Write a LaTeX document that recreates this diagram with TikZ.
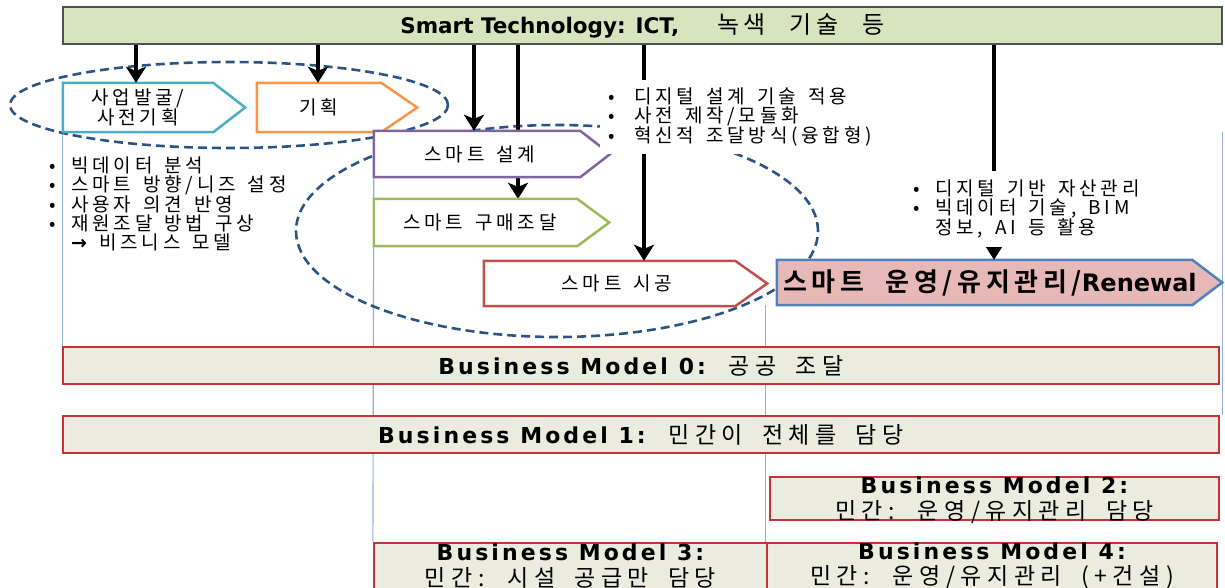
\documentclass[tikz,border=0pt]{standalone}
\usepackage{fontspec}
\setmainfont{Noto Sans CJK KR}[LetterSpace=20, WordSpace=1.5]
\newfontfamily\bigkr{Noto Sans CJK KR}[LetterSpace=18, WordSpace=2.5]
\newfontfamily\bmkr{Noto Sans CJK KR}[LetterSpace=24, WordSpace=1.8]
\newfontfamily\barlat{DejaVu Sans Bold}
\newfontfamily\bmlat{DejaVu Sans Bold}[LetterSpace=14]
\newfontfamily\krbold{Noto Sans CJK KR Bold}[LetterSpace=18, WordSpace=2]
\usetikzlibrary{arrows.meta,backgrounds}

\definecolor{barfill}{RGB}{215,228,189}
\definecolor{barline}{RGB}{80,80,80}
\definecolor{cteal}{RGB}{75,172,198}
\definecolor{corange}{RGB}{247,150,70}
\definecolor{cpurple}{RGB}{128,100,162}
\definecolor{cgreen}{RGB}{155,187,89}
\definecolor{cred}{RGB}{192,80,77}
\definecolor{cblue}{RGB}{79,129,189}
\definecolor{cpink}{RGB}{230,185,184}
\definecolor{bmfill}{RGB}{236,235,224}
\definecolor{bmline}{RGB}{200,50,55}
\definecolor{ringblue}{RGB}{44,84,130}
\definecolor{colblue}{RGB}{140,176,222}

% bullet column of a fixed width
\newcommand\notebullet[1]{\makebox[#1][l]{•}}

% chevron: #1 name, #2 centre of the body, #3 body width, #4 height,
% #5 length of the point, #6 outline colour, #7 fill colour
\newcommand\chevshape[7]{%
  \node[chevbox, minimum width=#3, minimum height=#4] (#1) at #2 {};
  \path[chevline, draw=#6, fill=#7] (#1.north west) -- (#1.north east)
    -- ([xshift=#5]#1.east) -- (#1.south east) -- (#1.south west) -- cycle;
}

\begin{document}
\begin{tikzpicture}[x=1pt,y=-1pt,
  chevbox/.style={rectangle, draw=none, inner sep=0pt},
  chevline/.style={line width=2.5pt},
  chevtext/.style={align=center, inner sep=0pt, font=\fontsize{19pt}{18pt}\selectfont},
  tarrow/.style={line width=4pt, -{Stealth[length=16pt,width=20pt,inset=4pt]}},
  ring/.style={draw=ringblue, line width=2.6pt, dash pattern=on 9pt off 5pt},
  colline/.style={draw=colblue, line width=1.1pt},
  bmbox/.style={rectangle, draw=bmline, fill=bmfill, line width=2.2pt, inner sep=0pt},
  bmtext/.style={align=center, inner sep=0pt, font=\bmkr\fontsize{23pt}{25.5pt}\selectfont},
  notes/.style={align=left, anchor=west, inner sep=0pt, font=\fontsize{19pt}{19.3pt}\selectfont},
]
\path[use as bounding box] (0,0) rectangle (1225,587);

% technology bar
\node[rectangle, draw=barline, fill=barfill, line width=1.8pt, inner sep=0pt,
      minimum width=1159pt, minimum height=37pt] (bar) at (642.5,25.5)
  {\raisebox{-2.5pt}{{\barlat\fontsize{21.5pt}{24pt}\selectfont Smart Technology: ICT,}\hspace{38pt}{\bigkr\fontsize{24pt}{24pt}\selectfont 녹색 기술 등}}};

% process chevrons
\chevshape{plan0}{(138,107.5)}{150pt}{49pt}{32pt}{cteal}{white}
\node[chevtext] (plan0-t) at (plan0.center) {사업발굴/\\사전기획};
\chevshape{plan}{(319,107.5)}{124pt}{49pt}{36pt}{corange}{white}
\node[chevtext] (plan-t) at (plan.center) {기획};
\chevshape{design}{(477,154)}{206pt}{46pt}{30pt}{cpurple}{white}
\node[chevtext] (design-t) at (480,154) {스마트 설계};
\chevshape{buy}{(475.5,222.5)}{203pt}{47pt}{32pt}{cgreen}{white}
\node[chevtext] (buy-t) at (480,222) {스마트 구매조달};
\chevshape{build}{(609.5,283.5)}{251pt}{45pt}{32pt}{cred}{white}
\node[chevtext] (build-t) at (617,283.5) {스마트 시공};
\chevshape{renew}{(984.5,282.5)}{415pt}{45pt}{30pt}{cblue}{cpink}
\node[inner sep=0pt] (renew-t) at (990,283)
  {{\krbold\fontsize{26pt}{26pt}\selectfont 스마트 운영/유지관리/}{\barlat\fontsize{24pt}{26pt}\selectfont Renewal}};

% business models
\node[bmbox, minimum width=1156pt, minimum height=37pt] (bm0) at (641,365.5) {};
\node[bmtext] (bm0-t) at (bm0.center) {{\bmlat\fontsize{22pt}{25.5pt}\selectfont Business Model 0:} 공공 조달};
\node[bmbox, minimum width=1156pt, minimum height=37pt] (bm1) at (641,434.5) {};
\node[bmtext] (bm1-t) at (bm1.center) {{\bmlat\fontsize{22pt}{25.5pt}\selectfont Business Model 1:} 민간이 전체를 담당};
\node[bmbox, minimum width=449pt, minimum height=43pt] (bm2) at (994.5,498.5) {};
\node[bmtext] (bm2-t) at (994.5,500) {{\bmlat\fontsize{22pt}{25.5pt}\selectfont Business Model 2:}\\민간: 운영/유지관리 담당};
\node[bmbox, minimum width=393pt, minimum height=62pt] (bm3) at (570.5,574) {};
\node[bmtext] (bm3-t) at (570.5,566) {{\bmlat\fontsize{22pt}{25.5pt}\selectfont Business Model 3:}\\민간: 시설 공급만 담당};
\node[bmbox, minimum width=450pt, minimum height=62pt] (bm4) at (992,574) {};
\node[bmtext] (bm4-t) at (992,566) {{\bmlat\fontsize{22pt}{25.5pt}\selectfont Business Model 4:}\\민간: 운영/유지관리 (+건설)};

% x positions of the technology arrows
\coordinate (ax1) at (136,0);
\coordinate (ax2) at (318,0);
\coordinate (ax3) at (474,0);
\coordinate (ax4) at (518,0);
\coordinate (ax5) at (644,0);
\coordinate (ax6) at (994,0);

\begin{pgfonlayer}{background}
  % column guides
  \draw[colline] (plan0.south west) -- (plan0.south west |- bm0.north);
  \draw[colline] (design.south west) -- (bm3.north west);
  \draw[colline] (bm4.north west |- renew.south) -- (bm4.north west);
  \draw[colline] (bar.east |- plan0.south) -- (bar.east |- bm1.north);
  % grouping rings
  \draw[ring] (229,105) ellipse [x radius=219pt, y radius=43pt];
  \draw[ring] (557,231) ellipse [x radius=261pt, y radius=106pt];
  % arrow running behind the design step
  \draw[tarrow] (ax4 |- bar.south) -- (ax4 |- buy.north);
\end{pgfonlayer}

\draw[tarrow] (ax1 |- bar.south) -- (ax1 |- plan0.north);
\draw[tarrow] (ax2 |- bar.south) -- (ax2 |- plan.north);
\draw[tarrow] (ax3 |- bar.south) -- (ax3 |- design.north);
\draw[tarrow] (ax5 |- bar.south) -- (ax5 |- build.north);
\draw[tarrow] (ax6 |- bar.south) -- (ax6 |- renew.north);

% notes
\node[notes] (notes-plan) at (49,204)
  {\notebullet{22pt}빅데이터 분석\\\notebullet{22pt}스마트 방향/니즈 설정\\\notebullet{22pt}사용자 의견 반영\\\notebullet{22pt}재원조달 방법 구상\\\hspace*{22pt}{\barlat →} 비즈니스 모델};
\node[notes, fill=white, inner xsep=8pt, inner ysep=8pt] (notes-design) at (600,117)
  {\notebullet{26pt}디지털 설계 기술 적용\\\notebullet{26pt}사전 제작/모듈화\\\notebullet{26pt}혁신적 조달방식(융합형)};
\node[notes, fill=white, inner xsep=8pt, inner ysep=8pt] (notes-renew) at (905,209)
  {\notebullet{22pt}디지털 기반 자산관리\\\notebullet{22pt}빅데이터 기술, BIM\\\hspace*{22pt}정보, AI 등 활용};
\end{tikzpicture}
\end{document}
